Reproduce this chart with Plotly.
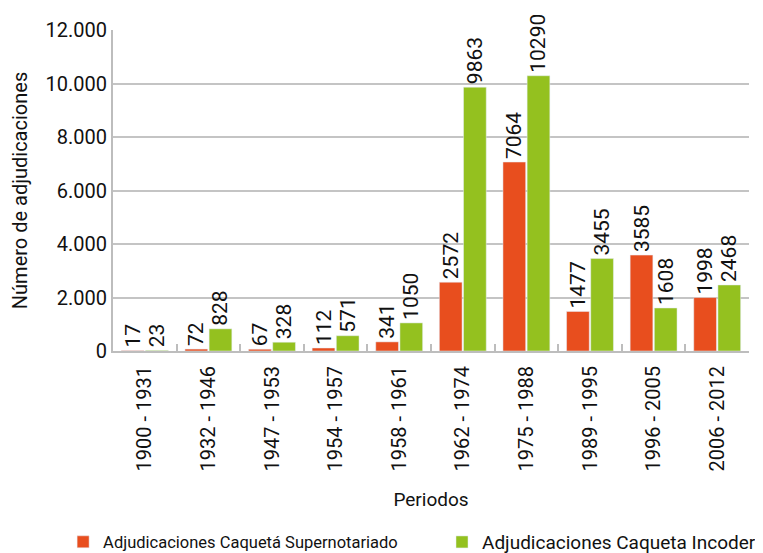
import plotly.graph_objects as go

periodos = ["1900 - 1931", "1932 - 1946", "1947 - 1953", "1954 - 1957", "1958 - 1961",
            "1962 - 1974", "1975 - 1988", "1989 - 1995", "1996 - 2005", "2006 - 2012"]
supernotariado = [17, 72, 67, 112, 341, 2572, 7064, 1477, 3585, 1998]
incoder = [23, 828, 328, 571, 1050, 9863, 10290, 3455, 1608, 2468]

FONT = "Roboto, Liberation Sans Narrow, Arial, sans-serif"
ORANGE = "#E84E1E"
GREEN = "#94C11F"

fig = go.Figure()
fig.add_trace(go.Bar(
    x=periodos, y=supernotariado,
    name="Adjudicaciones Caquetá Supernotariado",
    legend="legend",
    marker_color=ORANGE,
    text=[str(v) for v in supernotariado], textposition="outside", textangle=-90,
    textfont=dict(size=21, color="#111111", family=FONT),
    constraintext="none", cliponaxis=False,
))
fig.add_trace(go.Bar(
    x=periodos, y=incoder,
    name="Adjudicaciones Caqueta Incoder",
    legend="legend2",
    marker_color=GREEN,
    text=[str(v) for v in incoder], textposition="outside", textangle=-90,
    textfont=dict(size=21, color="#111111", family=FONT),
    constraintext="none", cliponaxis=False,
))

fig.update_layout(
    width=755, height=545,
    margin=dict(l=105, r=14, t=22, b=202, autoexpand=False),
    paper_bgcolor="white", plot_bgcolor="white",
    font=dict(family=FONT, color="#111111"),
    separators=",.",
    barmode="group", bargap=0.24, bargroupgap=0.06,
    showlegend=True,
    legend=dict(orientation="h", xref="container", yref="container",
                x=0.073, xanchor="left", y=0.02, yanchor="middle",
                font=dict(size=16.5, family=FONT)),
    legend2=dict(orientation="h", xref="container", yref="container",
                 x=(55 + 379) / 755, xanchor="left", y=0.02, yanchor="middle",
                 font=dict(size=19, family=FONT)),
)
fig.update_xaxes(
    type="category", tickangle=-90, tickfont=dict(size=20, family=FONT),
    ticklabelstandoff=5,
    title=dict(text="Periodos", font=dict(size=19, family=FONT), standoff=22),
    showline=True, linecolor="#BDBDBD", linewidth=2,
    ticks="inside", tickson="boundaries", ticklen=7, tickcolor="#BDBDBD", tickwidth=1.5,
    showgrid=False, automargin=False,
)
fig.update_yaxes(
    range=[0, 12000], dtick=2000, tickformat=",d",
    tickfont=dict(size=20, family=FONT),
    title=dict(text="Número de adjudicaciones", font=dict(size=20, family=FONT), standoff=14),
    showline=True, linecolor="#BDBDBD", linewidth=2,
    showgrid=True, gridcolor="#C4C4C4", gridwidth=1.5,
    zeroline=False, ticks="", automargin=False,
)

fig.write_html("out.html")
